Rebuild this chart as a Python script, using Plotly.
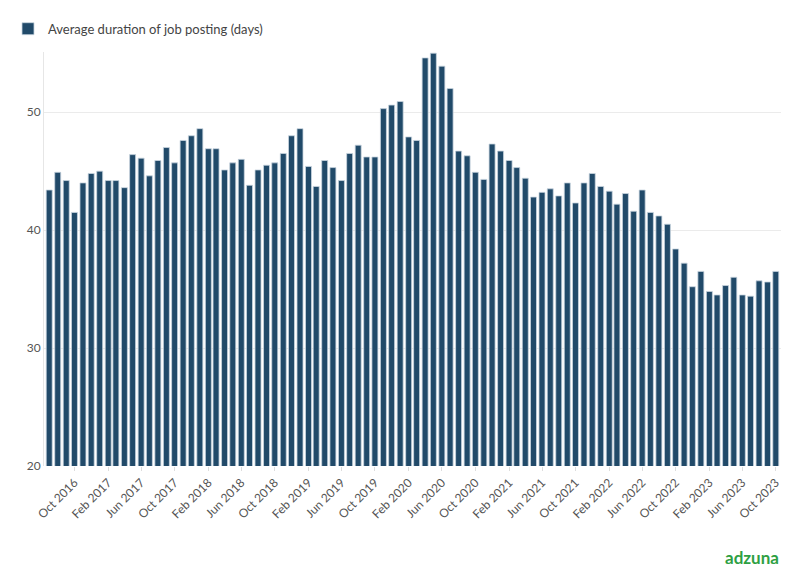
import pandas as pd
import plotly.graph_objects as go

months = pd.date_range("2016-07-01", periods=88, freq="MS")
duration = [
    43.4, 44.9, 44.2, 41.5, 44.0, 44.8, 45.0, 44.2, 44.2, 43.6, 46.4, 46.1,
    44.6, 45.9, 47.0, 45.7, 47.6, 48.0, 48.6, 46.9, 46.9, 45.1, 45.7, 46.0,
    43.8, 45.1, 45.5, 45.7, 46.5, 48.0, 48.6, 45.4, 43.7, 45.9, 45.3, 44.2,
    46.5, 47.2, 46.2, 46.2, 50.3, 50.6, 50.9, 47.9, 47.6, 54.6, 55.0, 53.9,
    52.0, 46.7, 46.3, 44.9, 44.3, 47.3, 46.7, 45.9, 45.3, 44.4, 42.8, 43.2,
    43.5, 42.9, 44.0, 42.3, 44.0, 44.8, 43.7, 43.3, 42.2, 43.1, 41.6, 43.4,
    41.5, 41.2, 40.5, 38.4, 37.2, 35.2, 36.5, 34.8, 34.5, 35.3, 36.0, 34.5,
    34.4, 35.7, 35.6, 36.5,
]

fig = go.Figure()
fig.add_trace(go.Bar(
    x=months, y=duration, name="Average duration of job posting (days)",
    marker=dict(color="#214a69", line=dict(color="#c9d6e0", width=0.8)),
    showlegend=True,
))

fig.update_layout(
    width=796, height=575,
    margin=dict(l=36, r=23, t=44, b=117),
    plot_bgcolor="white", paper_bgcolor="white",
    font=dict(family="Lato, sans-serif", size=12, color="#555"),
    bargap=0.22,
    legend=dict(x=0.0, y=0.99, xref="container", yref="container",
                xanchor="left", yanchor="top", itemwidth=30,
                orientation="h", font=dict(size=13, color="#444")),
    xaxis=dict(
        tickformat="%b %Y", dtick="M4", tick0="2016-10-01",
        tickangle=-45, showgrid=False, ticks="outside", ticklen=4,
        tickcolor="#ddd", range=["2016-06-12", "2023-10-20"],
        automargin=False,
    ),
    yaxis=dict(
        range=[20, 55.1], tickvals=[20, 30, 40, 50], showgrid=True,
        gridcolor="#ebebeb", showline=True, linecolor="#e6e6e6",
        zeroline=False, automargin=False,
    ),
)
fig.add_annotation(
    text="<b>adzuna</b>", xref="paper", yref="paper", x=1.0, y=-0.22,
    xanchor="right", yanchor="middle", showarrow=False,
    font=dict(size=17, color="#2ea043", family="Lato, sans-serif"),
)

fig.write_html("out.html")
